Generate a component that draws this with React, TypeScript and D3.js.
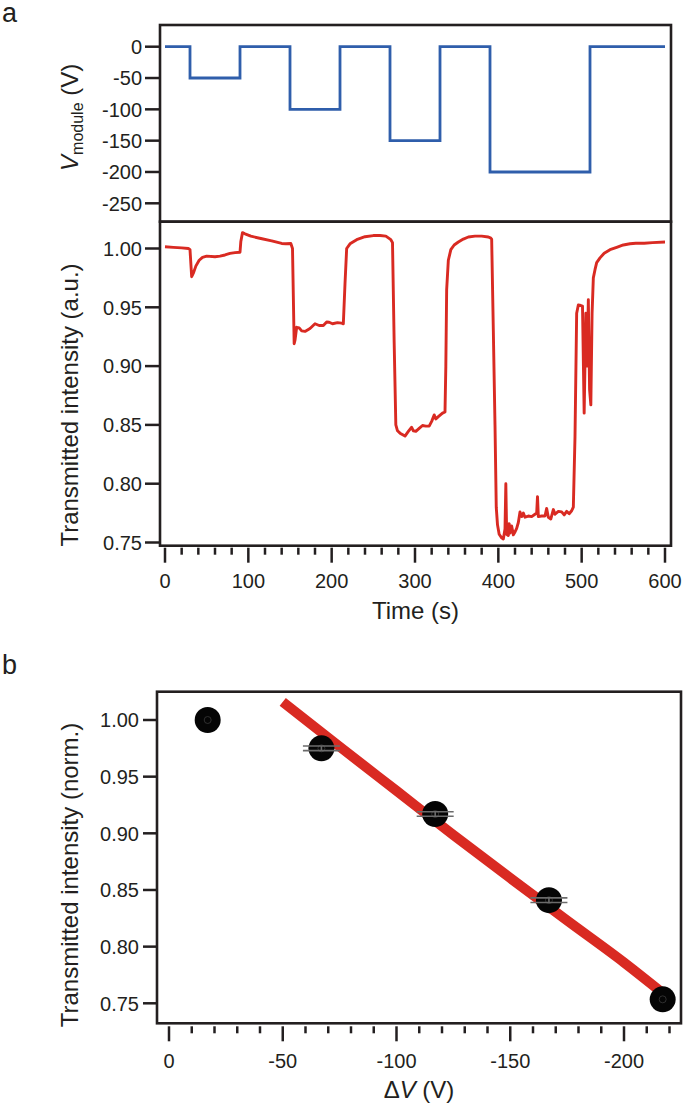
import React from "react";
import * as d3 from "d3";

// ---------- Data ----------
// Panel a (top): module voltage steps
const stepStartTimes = [0, 30, 90, 150, 210, 270, 330, 390, 510, 600];
const stepLevels = [0, -50, 0, -100, 0, -150, 0, -200, 0, 0];

// Panel a (bottom): transmitted intensity trace
const traceTime = [
  0, 10, 20, 28, 30, 32, 34, 37, 41, 45, 50, 60, 66, 72, 78, 84, 90, 91, 93, 96,
  103, 115, 128, 140, 145, 151, 153, 155, 156, 158, 161, 164, 168, 174, 180, 185, 190, 194, 197, 201,
  207, 212, 214, 216, 218, 222, 230, 240, 250, 258, 265, 271, 273, 275, 277, 279, 282, 288, 292, 296,
  298, 301, 305, 309, 313, 317, 320, 323, 325, 328, 333, 336, 337, 338, 340, 343, 347, 352, 358, 364,
  372, 380, 388, 391, 392, 394, 396, 397.5, 399, 401, 404, 406, 408, 409, 410, 412, 413, 414, 416, 418,
  420, 422, 424, 426, 428, 430, 432, 436, 440, 444, 446, 447, 448, 452, 456, 458, 460, 463, 466, 468,
  472, 476, 479, 482, 485, 488, 490, 492, 494, 496, 499, 501, 503, 505, 506.5, 508, 509.5, 511, 512.5, 514,
  516, 518, 522, 527, 534, 542, 550, 558, 565, 575, 585, 600,
];
const traceValue = [
  1.0015, 1.001, 1.0005, 1.0, 0.999, 0.976, 0.979, 0.985, 0.99, 0.9925, 0.9935, 0.993, 0.9935, 0.9945, 0.9958, 0.9965, 0.9968, 1.006, 1.0135, 1.0125,
  1.0105, 1.0085, 1.0065, 1.0043, 1.004, 1.0042, 1.0, 0.919, 0.922, 0.933, 0.9325, 0.93, 0.9295, 0.932, 0.936, 0.9345, 0.9345, 0.9375, 0.9373, 0.936,
  0.937, 0.9365, 0.936, 0.97, 1.0, 1.004, 1.0075, 1.01, 1.011, 1.011, 1.0105, 1.0075, 1.005, 0.92, 0.85, 0.845, 0.843, 0.8405, 0.8445, 0.848,
  0.845, 0.8445, 0.847, 0.8495, 0.849, 0.849, 0.853, 0.8585, 0.855, 0.857, 0.86, 0.861, 0.9, 0.965, 0.99, 0.999, 1.003, 1.0055, 1.008, 1.0098,
  1.0105, 1.0105, 1.0098, 1.0088, 1.008, 0.93, 0.85, 0.78, 0.765, 0.757, 0.754, 0.753, 0.7615, 0.8, 0.757, 0.756, 0.766, 0.758, 0.764, 0.7565,
  0.759, 0.762, 0.767, 0.776, 0.772, 0.775, 0.7715, 0.7725, 0.772, 0.774, 0.775, 0.789, 0.772, 0.7725, 0.7725, 0.779, 0.7715, 0.77, 0.778, 0.774,
  0.7765, 0.776, 0.7735, 0.7765, 0.7745, 0.777, 0.78, 0.84, 0.945, 0.952, 0.9515, 0.951, 0.86, 0.945, 0.9, 0.9565, 0.88, 0.867, 0.945, 0.975,
  0.982, 0.988, 0.992, 0.996, 0.999, 1.001, 1.003, 1.004, 1.0045, 1.0045, 1.005, 1.0055,
];

// Panel b: points, error bars and fit
const deltaV = [-17, -67, -117, -167, -217];
const normIntensity = [1.0, 0.975, 0.917, 0.841, 0.7535];
const normError = [0, 0.002, 0.002, 0.002, 0];
const fitDeltaV = [-50, -75, -100, -125, -150, -175, -200, -217];
const fitValue = [1.016, 0.9765, 0.9375, 0.8985, 0.8605, 0.823, 0.786, 0.759];

// Tick values
const voltTicks = [0, -50, -100, -150, -200, -250];
const intensityTicks = [1.0, 0.95, 0.9, 0.85, 0.8, 0.75];
const timeMajorTicks = [0, 100, 200, 300, 400, 500, 600];
const timeMinorTicks = d3.range(0, 601, 20);
const dvMajorTicks = [0, -50, -100, -150, -200];
const dvMinorTicks = d3.range(0, -221, -10);

// ---------- Styles ----------
const FONT = "'Liberation Sans', Arial, Helvetica, sans-serif";
const INK = "#231f20";
const RED = "#d92a22";
const BLUE = "#2f5eab";

export default function App() {
  // Panel a geometry
  const aLeft = 160, aRight = 671;
  const vTop = 25, vBottom = 221.7, iBottom = 545.7;
  const xA = d3.scaleLinear().domain([0, 600]).range([165, 665]);
  const yV = d3.scaleLinear().domain([0, -250]).range([46.7, 203.3]);
  const yI = d3.scaleLinear().domain([1, 0.75]).range([248.5, 542.5]);

  // Panel b geometry
  const bLeft = 157, bRight = 681, bTop = 691.7, bBottom = 1023.3;
  const xB = d3.scaleLinear().domain([0, -200]).range([169, 624]);
  const yB = d3.scaleLinear().domain([1, 0.75]).range([720, 1003.3]);

  const stepLine = d3
    .line<number>()
    .x((_, i) => xA(stepStartTimes[i]))
    .y((d) => yV(d))
    .curve(d3.curveStepAfter);

  const traceLine = d3
    .line<number>()
    .x((_, i) => xA(traceTime[i]))
    .y((d) => yI(d));

  const fitLine = d3
    .line<number>()
    .x((_, i) => xB(fitDeltaV[i]))
    .y((d) => yB(d))
    .curve(d3.curveMonotoneX);

  const tickW = 2.5;
  const fmt2 = d3.format(".2f");

  return (
    <svg
      width={685}
      height={1107}
      style={{ position: "absolute", left: 0, top: 0, background: "#fff" }}
      fontFamily={FONT}
    >
      <rect width={685} height={1107} fill="#fff" />
      {/* Panel labels */}
      <text x={2} y={22} fontSize={27} fill={INK}>a</text>
      <text x={2} y={674} fontSize={27} fill={INK}>b</text>

      {/* ---- Panel a, voltage ---- */}
      <path d={stepLine(stepLevels) || ""} fill="none" stroke={BLUE} strokeWidth={2.8} />
      {voltTicks.map((t) => (
        <g key={"vt" + t}>
          <line x1={aLeft - 15} x2={aLeft} y1={yV(t)} y2={yV(t)} stroke={INK} strokeWidth={tickW} />
          <text x={aLeft - 18} y={yV(t)} dy="0.36em" textAnchor="end" fontSize={20} fill={INK}>
            {t}
          </text>
        </g>
      ))}
      <text
        transform={`translate(${78},${(vTop + vBottom) / 2 - 6}) rotate(-90)`}
        textAnchor="middle"
        fontSize={24}
        fill={INK}
      >
        <tspan fontStyle="italic">V</tspan>
        <tspan fontSize={16} dy={5}>module</tspan>
        <tspan dy={-5}> (V)</tspan>
      </text>

      {/* ---- Panel a, intensity ---- */}
      <path d={traceLine(traceValue) || ""} fill="none" stroke={RED} strokeWidth={2.9} strokeLinejoin="round" />
      {intensityTicks.map((t) => (
        <g key={"it" + t}>
          <line x1={aLeft - 15} x2={aLeft} y1={yI(t)} y2={yI(t)} stroke={INK} strokeWidth={tickW} />
          <text x={aLeft - 18} y={yI(t)} dy="0.36em" textAnchor="end" fontSize={20} fill={INK}>
            {fmt2(t)}
          </text>
        </g>
      ))}
      {timeMinorTicks.map((t) => {
        const major = t % 100 === 0;
        return (
          <line
            key={"tm" + t}
            x1={xA(t)}
            x2={xA(t)}
            y1={iBottom + 2}
            y2={iBottom + (major ? 17 : 9)}
            stroke={INK}
            strokeWidth={tickW}
          />
        );
      })}
      {timeMajorTicks.map((t) => (
        <text key={"tl" + t} x={xA(t)} y={588} textAnchor="middle" fontSize={20} fill={INK}>
          {t}
        </text>
      ))}
      <text x={(aLeft + aRight) / 2} y={619} textAnchor="middle" fontSize={24} fill={INK}>
        Time (s)
      </text>
      <text
        transform={`translate(${78},${405}) rotate(-90)`}
        textAnchor="middle"
        fontSize={24}
        fill={INK}
      >
        Transmitted intensity (a.u.)
      </text>

      {/* Frames panel a */}
      <rect x={aLeft} y={vTop} width={aRight - aLeft} height={vBottom - vTop} fill="none" stroke={INK} strokeWidth={2.6} />
      <rect x={aLeft} y={vBottom} width={aRight - aLeft} height={iBottom - vBottom} fill="none" stroke={INK} strokeWidth={2.6} />

      {/* ---- Panel b ---- */}
      <path d={fitLine(fitValue) || ""} fill="none" stroke={RED} strokeWidth={10} />
      {deltaV.map((dv, i) => (
        <g key={"pt" + i}>
          <circle cx={xB(dv)} cy={yB(normIntensity[i])} r={13} fill="#050505" />
          <circle cx={xB(dv)} cy={yB(normIntensity[i])} r={3.5} fill="none" stroke="#3a3a3a" strokeWidth={0.8} />
          {normError[i] > 0 && (
            <g stroke="#6b6b6b" strokeWidth={1.6}>
              <line
                x1={xB(dv) - 18.5}
                x2={xB(dv) + 18.5}
                y1={yB(normIntensity[i] + normError[i])}
                y2={yB(normIntensity[i] + normError[i])}
              />
              <line
                x1={xB(dv) - 18.5}
                x2={xB(dv) + 18.5}
                y1={yB(normIntensity[i] - normError[i])}
                y2={yB(normIntensity[i] - normError[i])}
              />
              <line
                x1={xB(dv)}
                x2={xB(dv)}
                y1={yB(normIntensity[i] + normError[i])}
                y2={yB(normIntensity[i] - normError[i])}
              />
            </g>
          )}
        </g>
      ))}
      {intensityTicks.map((t) => (
        <g key={"bt" + t}>
          <line x1={bLeft - 14} x2={bLeft} y1={yB(t)} y2={yB(t)} stroke={INK} strokeWidth={tickW} />
          <text x={bLeft - 18} y={yB(t)} dy="0.36em" textAnchor="end" fontSize={20} fill={INK}>
            {fmt2(t)}
          </text>
        </g>
      ))}
      {dvMinorTicks.map((t) => {
        const major = t % 50 === 0;
        return (
          <line
            key={"dm" + t}
            x1={xB(t)}
            x2={xB(t)}
            y1={bBottom + 3}
            y2={bBottom + (major ? 18 : 10)}
            stroke={INK}
            strokeWidth={tickW}
          />
        );
      })}
      {dvMajorTicks.map((t) => (
        <text key={"dl" + t} x={xB(t)} y={1068} textAnchor="middle" fontSize={20} fill={INK}>
          {t}
        </text>
      ))}
      <text x={(bLeft + bRight) / 2} y={1098} textAnchor="middle" fontSize={24} fill={INK}>
        Δ<tspan fontStyle="italic">V</tspan> (V)
      </text>
      <text
        transform={`translate(${78},${875}) rotate(-90)`}
        textAnchor="middle"
        fontSize={24}
        fill={INK}
      >
        Transmitted intensity (norm.)
      </text>
      <rect x={bLeft} y={bTop} width={bRight - bLeft} height={bBottom - bTop} fill="none" stroke={INK} strokeWidth={2.6} />
    </svg>
  );
}
